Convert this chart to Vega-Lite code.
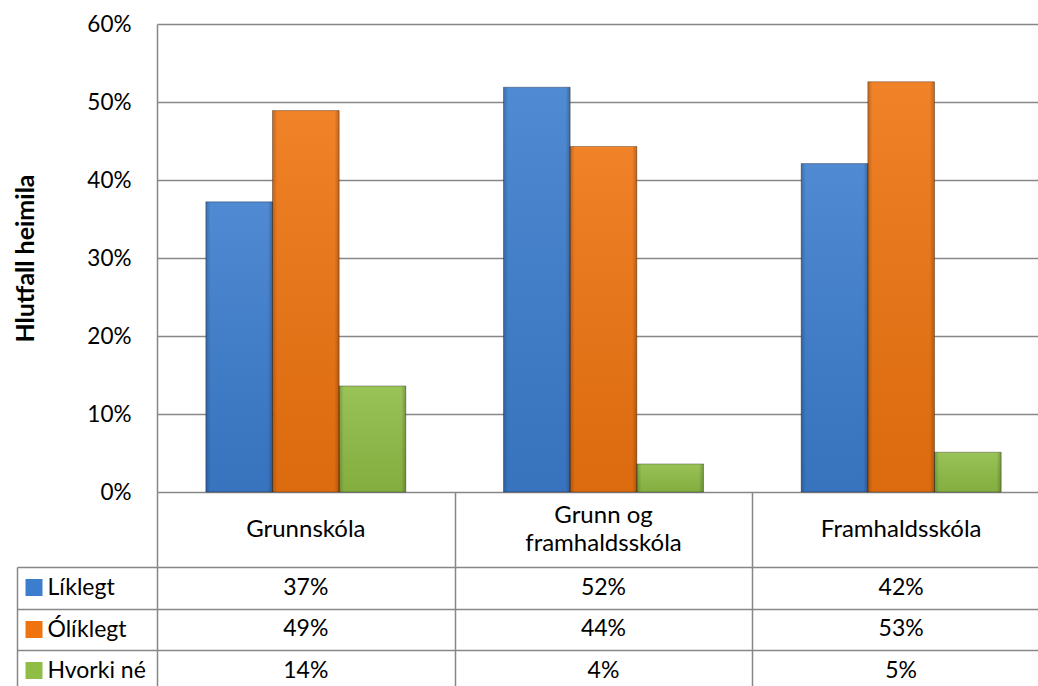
{
  "$schema": "https://vega.github.io/schema/vega-lite/v6.json",
  "padding": {"left": 13, "top": 13, "right": 0, "bottom": 0},
  "background": "white",
  "config": {"view": {"stroke": null}, "font": "Lato", "concat": {"spacing": 0}},
  "datasets": {
    "d": [
      {"category": "Grunnskóla", "series": "Líklegt", "value": 0.372},
      {"category": "Grunnskóla", "series": "Ólíklegt", "value": 0.489},
      {"category": "Grunnskóla", "series": "Hvorki né", "value": 0.136},
      {"category": "Grunn og framhaldsskóla", "series": "Líklegt", "value": 0.519},
      {"category": "Grunn og framhaldsskóla", "series": "Ólíklegt", "value": 0.443},
      {"category": "Grunn og framhaldsskóla", "series": "Hvorki né", "value": 0.036},
      {"category": "Framhaldsskóla", "series": "Líklegt", "value": 0.421},
      {"category": "Framhaldsskóla", "series": "Ólíklegt", "value": 0.526},
      {"category": "Framhaldsskóla", "series": "Hvorki né", "value": 0.051}
    ],
    "h": [
      {"category": "Grunnskóla", "label": "Grunnskóla"},
      {"category": "Grunn og framhaldsskóla", "label": "Grunn og\nframhaldsskóla"},
      {"category": "Framhaldsskóla", "label": "Framhaldsskóla"}
    ]
  },
  "spacing": 0,
  "bounds": "flush",
  "vconcat": [
    {
      "width": 893,
      "height": 468,
      "data": {"name": "d"},
      "encoding": {
        "x": {"field": "category", "type": "nominal", "sort": ["Grunnskóla", "Grunn og framhaldsskóla", "Framhaldsskóla"], "scale": {"paddingInner": 0.328, "paddingOuter": 0.164}, "axis": null},
        "xOffset": {"field": "series", "type": "nominal", "sort": ["Líklegt", "Ólíklegt", "Hvorki né"], "scale": {"paddingInner": 0, "paddingOuter": 0}},
        "y": {"field": "value", "type": "quantitative", "scale": {"domain": [0, 0.6], "nice": false},
          "axis": {"values": [0, 0.1, 0.2, 0.3, 0.4, 0.5, 0.6], "format": ".0%", "title": "Hlutfall heimila", "grid": true, "gridColor": "#878787", "gridWidth": 1.5, "domain": true, "domainColor": "#878787", "domainWidth": 1.5, "ticks": false, "tickSize": 0, "labelFontSize": 22.5, "labelPadding": 26, "labelColor": "#000000", "titleFontSize": 25, "titleFontWeight": "bold", "titlePadding": 48, "titleColor": "#000000"}}
      },
      "layer": [
        {"mark": {"type": "bar"},
         "encoding": {"color": {"field": "series", "type": "nominal", "scale": {"domain": ["Líklegt", "Ólíklegt", "Hvorki né"], "range": ["#3c7dce", "#ef7410", "#8fbd45"]}, "legend": null}}},
        {"mark": {"type": "bar", "stroke": "rgba(0,0,0,0.3)", "strokeWidth": 1,
          "color": {"gradient": "linear", "x1": 0, "y1": 0, "x2": 0, "y2": 1, "stops": [{"offset": 0, "color": "rgba(255,255,255,0.1)"}, {"offset": 1, "color": "rgba(0,0,0,0.08)"}]}}},
        {"mark": {"type": "bar",
          "color": {"gradient": "linear", "x1": 0, "y1": 0, "x2": 1, "y2": 0, "stops": [{"offset": 0, "color": "rgba(0,0,0,0.2)"}, {"offset": 0.07, "color": "rgba(0,0,0,0)"}, {"offset": 0.93, "color": "rgba(0,0,0,0)"}, {"offset": 1, "color": "rgba(0,0,0,0.22)"}]}}}
      ]
    },
    {
      "width": 893,
      "height": 75,
      "data": {"name": "h"},
      "encoding": {
        "x": {"field": "category", "type": "nominal", "sort": ["Grunnskóla", "Grunn og framhaldsskóla", "Framhaldsskóla"], "scale": {"domain": ["Grunnskóla", "Grunn og framhaldsskóla", "Framhaldsskóla"], "padding": 0}, "axis": {"title": null, "labels": false, "ticks": false, "domain": false, "grid": true, "tickBand": "extent", "gridColor": "#878787", "gridWidth": 1.5}},
        "text": {"field": "label"}
      },
      "layer": [
        {"transform": [{"filter": "indexof(datum.label, '\\n') < 0"}],
         "mark": {"type": "text", "fontSize": 24, "lineBreak": "\n", "lineHeight": 28, "color": "#000000"}},
        {"transform": [{"filter": "indexof(datum.label, '\\n') >= 0"}],
         "mark": {"type": "text", "fontSize": 24, "lineBreak": "\n", "lineHeight": 28, "dy": -14, "color": "#000000"}}
      ]
    },
    {
      "width": 893,
      "height": 124.5,
      "data": {"name": "d"},
      "layer": [
        {"mark": {"type": "text", "fontSize": 23, "color": "#000000"},
         "encoding": {
           "x": {"field": "category", "type": "nominal", "sort": ["Grunnskóla", "Grunn og framhaldsskóla", "Framhaldsskóla"], "scale": {"padding": 0}, "axis": {"title": null, "labels": false, "ticks": false, "domain": false, "grid": true, "tickBand": "extent", "gridColor": "#878787", "gridWidth": 1.5}},
           "y": {"field": "series", "type": "nominal", "sort": ["Líklegt", "Ólíklegt", "Hvorki né"], "scale": {"padding": 0},
             "axis": {"title": null, "orient": "left", "domain": false, "grid": true, "tickBand": "extent", "gridColor": "#878787", "gridWidth": 1.5, "ticks": true, "tickSize": 140, "tickColor": "#878787", "tickWidth": 1.5, "labelAlign": "left", "labelPadding": -30, "labelFontSize": 23, "labelColor": "#000000", "labelBaseline": "middle"}},
           "text": {"field": "value", "type": "quantitative", "format": ".0%"}
         }},
        {"mark": {"type": "point", "opacity": 0},
         "encoding": {
           "x": {"field": "category", "type": "nominal", "sort": ["Grunnskóla", "Grunn og framhaldsskóla", "Framhaldsskóla"]},
           "y": {"field": "series", "type": "nominal", "sort": ["Líklegt", "Ólíklegt", "Hvorki né"],
             "axis": {"orient": "left", "offset": 115, "title": null, "domain": false, "labels": false, "grid": false, "ticks": true, "tickSize": 17, "tickWidth": 17,
               "tickColor": {"condition": [{"test": "datum.value === 'Líklegt'", "value": "#3c7dce"}, {"test": "datum.value === 'Ólíklegt'", "value": "#ef7410"}], "value": "#8fbd45"}}}
         }},
        {"mark": {"type": "point", "opacity": 0},
         "encoding": {
           "x": {"field": "category", "type": "nominal", "sort": ["Grunnskóla", "Grunn og framhaldsskóla", "Framhaldsskóla"]},
           "y": {"field": "series", "type": "nominal", "sort": ["Líklegt", "Ólíklegt", "Hvorki né"],
             "axis": {"orient": "left", "offset": 140, "title": null, "domain": true, "domainColor": "#878787", "domainWidth": 1.5, "labels": false, "grid": false, "ticks": false}}
         }}
      ],
      "resolve": {"axis": {"y": "independent"}}
    }
  ]
}
